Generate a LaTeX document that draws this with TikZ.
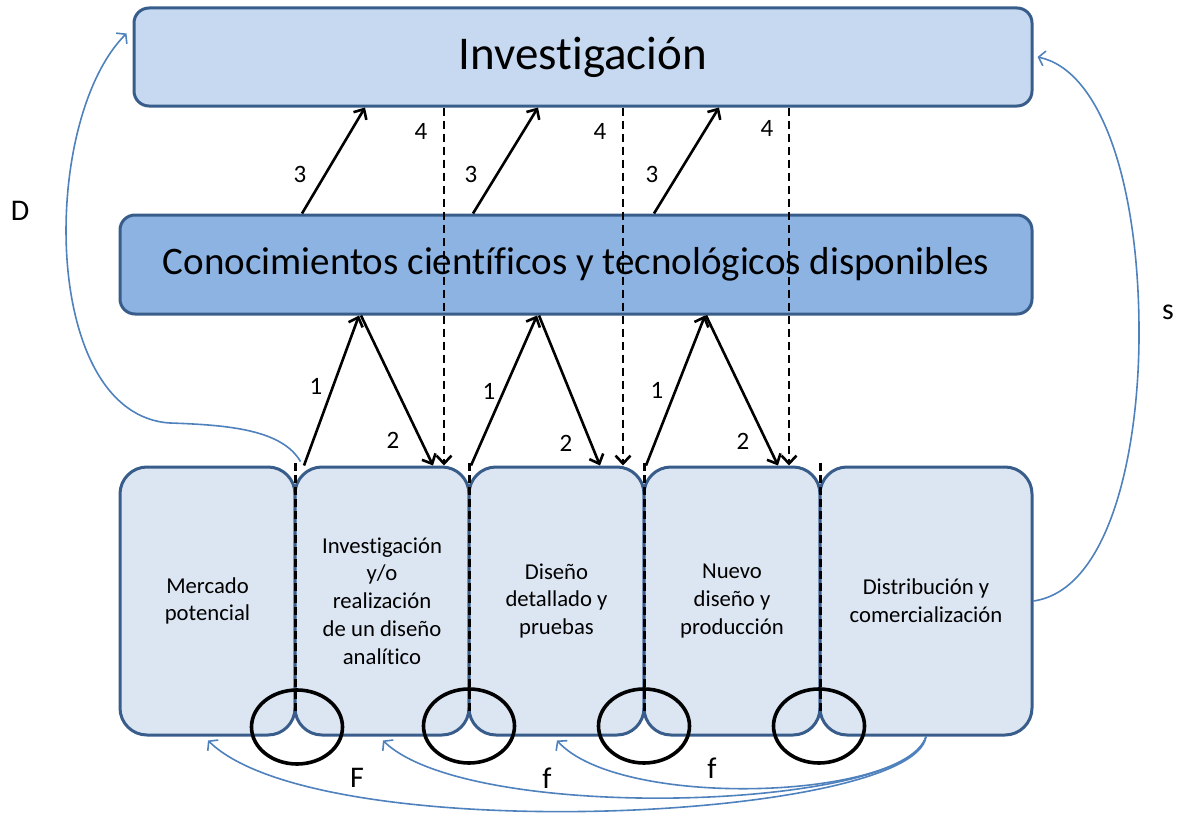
\documentclass[tikz,border=0pt]{standalone}
\usepackage{fontspec}
\setmainfont{Carlito}[Ligatures={NoCommon,NoRequired,NoContextual}]
\usetikzlibrary{arrows.meta,calc}
\definecolor{bord}{HTML}{385D8A}
\definecolor{topfill}{HTML}{C6D9F1}
\definecolor{midfill}{HTML}{8DB3E2}
\definecolor{lowfill}{HTML}{DCE6F2}
\definecolor{curvecol}{HTML}{4F81BD}
\begin{document}
\begin{tikzpicture}[x=1pt,y=-1pt,
  topbox/.style={draw=bord, line width=3pt, fill=topfill, rounded corners=15pt, inner sep=0pt, font=\fontsize{47}{56}\selectfont},
  midbox/.style={draw=bord, line width=3pt, fill=midfill, rounded corners=15pt, inner sep=0pt, font=\fontsize{39}{47}\selectfont},
  stagebox/.style={draw=bord, line width=3pt, fill=lowfill, rounded corners=27pt, inner sep=0pt, minimum height=268pt, align=center, font=\fontsize{22.7}{27.8}\selectfont},
  arr/.style={line width=2.6pt, -{Straight Barb[length=8pt,width=15pt]}},
  darr/.style={arr, dash pattern=on 8pt off 5pt},
  junct/.style={line width=3pt, dash pattern=on 8pt off 4pt},
  ring/.style={line width=3.6pt},
  feedback/.style={draw=curvecol, line width=1.6pt, -{Straight Barb[length=6pt,width=15pt]}},
  lab/.style={font=\fontsize{25}{29}\selectfont, inner sep=0pt},
  biglab/.style={font=\fontsize{30}{36}\selectfont, inner sep=0pt}]
\useasboundingbox (0,0) rectangle (1181,816);

% main boxes
\node[topbox, minimum width=898pt, minimum height=98pt] (inv) at (583,57) {\raisebox{-4pt}{Investigación}};
\node[midbox, minimum width=912pt, minimum height=99pt] (kn) at (576,264.5) {\raisebox{-3pt}{Conocimientos científicos y tecnológicos disponibles}};

% stage boxes
\node[stagebox, minimum width=175pt] (b1) at (207.5,601) {Mercado\\potencial};
\node[stagebox, minimum width=174pt] (b2) at (382,601) {Investigación\\y/o\\realización\\de un diseño\\analítico};
\node[stagebox, minimum width=175pt] (b3) at (556.5,601) {Diseño\\detallado y\\pruebas};
\node[stagebox, minimum width=176pt] (b4) at (732,601) {Nuevo\\diseño y\\producción};
\node[stagebox, minimum width=212pt] (b5) at (926,601) {Distribución y\\comercialización};

% junction lines and rings
\foreach \xx in {295,469,644,820}{
  \draw[junct] (\xx,463) -- (\xx,713);
}
\draw[ring] (297,727) ellipse (45.5 and 37);
\draw[ring] (469,726) ellipse (45.5 and 37);
\draw[ring] (644,726) ellipse (45.5 and 37);
\draw[ring] (819,726) ellipse (45.5 and 37);

% arrows 3 (knowledge -> research)
\draw[arr] (302,0 |- kn.north) -- (365,0 |- inv.south);
\draw[arr] (473,0 |- kn.north) -- (538,0 |- inv.south);
\draw[arr] (654,0 |- kn.north) -- (719,0 |- inv.south);

% arrows 4 (research -> stages), dashed
\draw[darr] (444,0 |- inv.south) -- (444,0 |- b2.north);
\draw[darr] (623,0 |- inv.south) -- (623,0 |- b3.north);
\draw[darr] (789,0 |- inv.south) -- (789,0 |- b4.north);

% arrows 1 (stages -> knowledge)
\draw[arr] (304,0 |- b2.north) -- (359,0 |- kn.south);
\draw[arr] (471,0 |- b3.north) -- (537,0 |- kn.south);
\draw[arr] (646,0 |- b4.north) -- (705,0 |- kn.south);

% arrows 2 (knowledge -> stages)
\draw[arr] (361,0 |- kn.south) -- (433,0 |- b2.north);
\draw[arr] (539,0 |- kn.south) -- (600,0 |- b3.north);
\draw[arr] (706,0 |- kn.south) -- (778,0 |- b4.north);

% number labels
\node[lab] (n3a) at (300,174) {3};
\node[lab] (n3b) at (471,174) {3};
\node[lab] (n3c) at (652,174) {3};
\node[lab] (n4a) at (421,131) {4};
\node[lab] (n4b) at (600,131) {4};
\node[lab] (n4c) at (767,128) {4};
\node[lab] (n1a) at (316,386) {1};
\node[lab] (n1b) at (489,391) {1};
\node[lab] (n1c) at (657,390) {1};
\node[lab] (n2a) at (393,440) {2};
\node[lab] (n2b) at (566,443) {2};
\node[lab] (n2c) at (743,441) {2};

% feedback curves
\draw[feedback] ($(b2.north west)+(7,-4)$) .. controls (282,430) and (230,425) .. (170,423)
   .. controls (40,415) and (40,120) .. ($(inv.north west)+(-6,27)$);
\draw[feedback] (b5.east) .. controls (1110,590) and (1140,450) .. (1139,327)
   .. controls (1138,180) and (1100,70) .. ($(inv.east)+(4,0)$);
\draw[feedback] (b5.south) .. controls (915,820) and (320,850) .. ($(b1.south)+(0.5,4)$);
\draw[feedback] (b5.south) .. controls (910,810) and (470,825) .. ($(b2.south)+(1,4)$);
\draw[feedback] (b5.south) .. controls (905,800) and (620,810) .. ($(b3.south)+(0.5,4)$);

% letter labels
\node[biglab] (lD) at (20,211) {D};
\node[biglab] (ls) at (1168,312) {s};
\node[biglab] (lF) at (357,778) {F};
\node[biglab] (lf1) at (547,778) {f};
\node[biglab] (lf2) at (712,768) {f};
\end{tikzpicture}
\end{document}
